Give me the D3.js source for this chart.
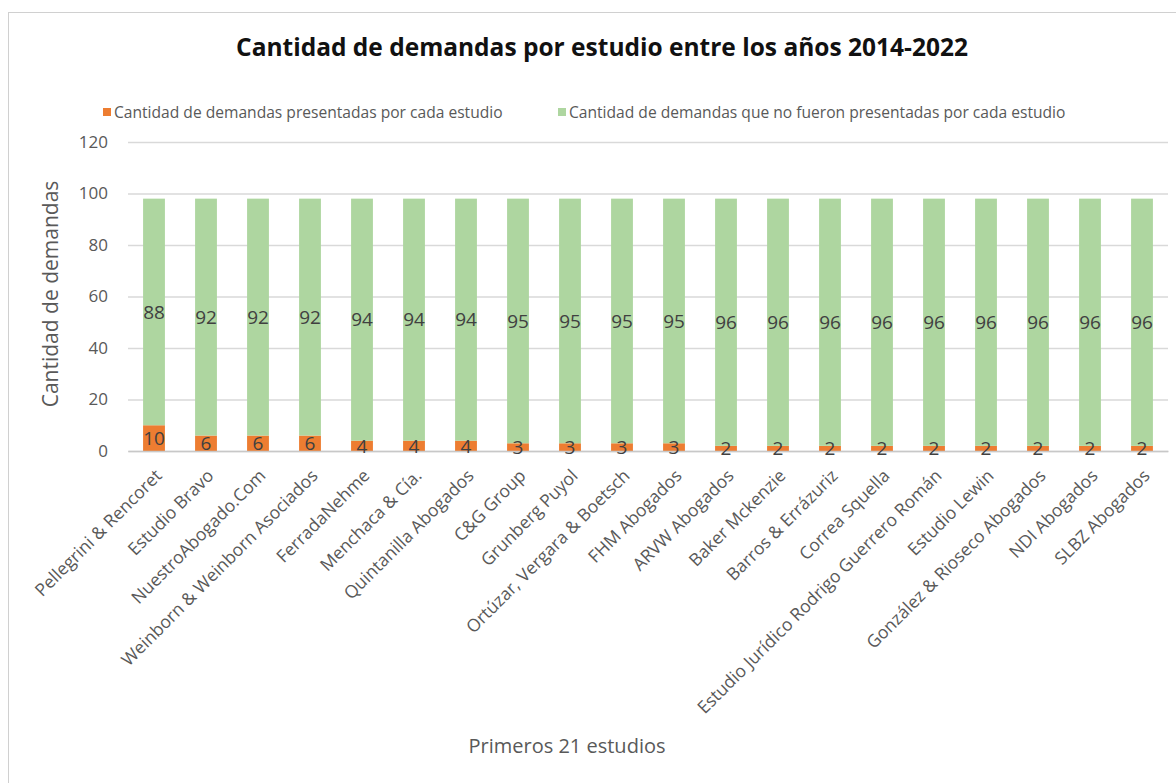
<!DOCTYPE html>
<html>
<head>
<meta charset="utf-8">
<script src="https://cdn.jsdelivr.net/npm/d3@7"></script>
<style>
  body { margin: 0; background: #fff; }
  text { font-family: "Open Sans", "Noto Sans", sans-serif; }
</style>
</head>
<body>
<div id="chart"></div>
<script>
// Estudios (eje X)
var estudios = [
    "Pellegrini & Rencoret", "Estudio Bravo", "NuestroAbogado.Com",
    "Weinborn & Weinborn Asociados", "FerradaNehme", "Menchaca & Cía.",
    "Quintanilla Abogados", "C&G Group", "Grunberg Puyol",
    "Ortúzar, Vergara & Boetsch", "FHM Abogados", "ARVW Abogados",
    "Baker Mckenzie", "Barros & Errázuriz", "Correa Squella",
    "Estudio Jurídico Rodrigo Guerrero Román", "Estudio Lewin",
    "González & Rioseco Abogados", "NDI Abogados", "SLBZ Abogados"
];
// demandas presentadas
var presentadas = [10, 6, 6, 6, 4, 4, 4, 3, 3, 3, 3, 2, 2, 2, 2, 2, 2, 2, 2, 2];
// demandas no presentadas
var noPresentadas = [88, 92, 92, 92, 94, 94, 94, 95, 95, 95, 95, 96, 96, 96, 96, 96, 96, 96, 96, 96];
var yTicks = [0, 20, 40, 60, 80, 100, 120];

var seriesNames = [
    "Cantidad de demandas presentadas por cada estudio",
    "Cantidad de demandas que no fueron presentadas por cada estudio"
];
var colors = ["#ed7d31", "#aed6a0"];

var svgWidth = 1176;
var svgHeight = 783;
var margin = { top: 142, right: 8, bottom: 332, left: 128 };
var width = svgWidth - margin.left - margin.right;
var height = svgHeight - margin.top - margin.bottom;

var svg = d3.select("#chart")
    .append("svg")
    .attr("width", svgWidth)
    .attr("height", svgHeight);

// borde del gráfico
svg.append("rect")
    .attr("x", 8.5)
    .attr("y", 12.5)
    .attr("width", svgWidth + 10)
    .attr("height", svgHeight + 10)
    .attr("fill", "none")
    .attr("stroke", "#d0d0d0");

var table = estudios.map(function(e, i) {
    return { estudio: e, presentadas: presentadas[i], noPresentadas: noPresentadas[i] };
});
var stacked = d3.stack().keys(["presentadas", "noPresentadas"])(table);

var x = d3.scaleBand()
    .domain(estudios)
    .range([0, width])
    .paddingInner(0.58)
    .paddingOuter(0.29);

var y = d3.scaleLinear()
    .domain([0, 120])
    .range([height, 0]);

var g = svg.append("g")
    .attr("transform", `translate(${margin.left}, ${margin.top})`);

// gridlines
g.append("g")
    .call(d3.axisLeft(y).tickValues(yTicks).tickSize(-width).tickFormat(""))
    .call(function(s) {
        s.select(".domain").remove();
        s.selectAll("line").attr("stroke", "#d9d9d9").attr("stroke-width", 1.3);
    });

// tick labels
g.append("g")
    .call(d3.axisLeft(y).tickValues(yTicks).tickSize(0).tickPadding(20))
    .call(function(s) {
        s.select(".domain").remove();
        s.selectAll("text")
            .attr("fill", "#595959")
            .style("font-size", "17px");
    });

// barras
var layers = g.selectAll(".layer")
    .data(stacked)
    .enter()
    .append("g")
    .attr("fill", (d, i) => colors[i]);

layers.selectAll("rect")
    .data(d => d)
    .enter()
    .append("rect")
    .attr("x", d => x(d.data.estudio))
    .attr("y", d => y(d[1]))
    .attr("width", x.bandwidth())
    .attr("height", d => y(d[0]) - y(d[1]));

// eje x base
g.append("g")
    .attr("transform", `translate(0, ${height})`)
    .call(d3.axisBottom(x).tickSize(0).tickPadding(12))
    .call(function(s) {
        s.select(".domain").attr("stroke", "#c8c8c8").attr("stroke-width", 1.5);
        s.selectAll("text")
            .attr("fill", "#595959")
            .style("font-size", "17.5px")
            .attr("text-anchor", "end")
            .attr("dy", "0.35em")
            .attr("transform", "translate(-4,13) rotate(-45)");
    });

// etiquetas de datos (encima de todas las barras)
var labelLayers = g.selectAll(".labels")
    .data(stacked)
    .enter()
    .append("g");

labelLayers.selectAll("text")
    .data(d => d)
    .enter()
    .append("text")
    .attr("x", d => x(d.data.estudio) + x.bandwidth() / 2)
    .attr("y", d => (y(d[0]) + y(d[1])) / 2)
    .attr("dy", "0.35em")
    .attr("text-anchor", "middle")
    .attr("fill", "#404040")
    .style("font-size", "19px")
    .text(d => d[1] - d[0]);

// título
svg.append("text")
    .attr("x", 602)
    .attr("y", 56)
    .attr("text-anchor", "middle")
    .attr("fill", "#111")
    .style("font-size", "24.5px")
    .style("font-weight", "bold")
    .text("Cantidad de demandas por estudio entre los años 2014-2022");

// leyenda
var legendX = [103, 558];
var legend = svg.selectAll(".legend")
    .data(seriesNames)
    .enter()
    .append("g")
    .attr("transform", (d, i) => `translate(${legendX[i]}, 113)`);
legend.append("rect")
    .attr("x", 0)
    .attr("y", -5)
    .attr("width", 8)
    .attr("height", 8)
    .attr("fill", (d, i) => colors[i]);
legend.append("text")
    .attr("x", 11)
    .attr("y", 0)
    .attr("dy", "0.35em")
    .attr("fill", "#595959")
    .style("font-size", "15.6px")
    .text(d => d);

// títulos de ejes
svg.append("text")
    .attr("transform", "rotate(-90)")
    .attr("x", -294)
    .attr("y", 58)
    .attr("text-anchor", "middle")
    .attr("fill", "#595959")
    .style("font-size", "21px")
    .text("Cantidad de demandas");

svg.append("text")
    .attr("x", 567)
    .attr("y", 753)
    .attr("text-anchor", "middle")
    .attr("fill", "#595959")
    .style("font-size", "20px")
    .text("Primeros 21 estudios");
</script>
</body>
</html>
